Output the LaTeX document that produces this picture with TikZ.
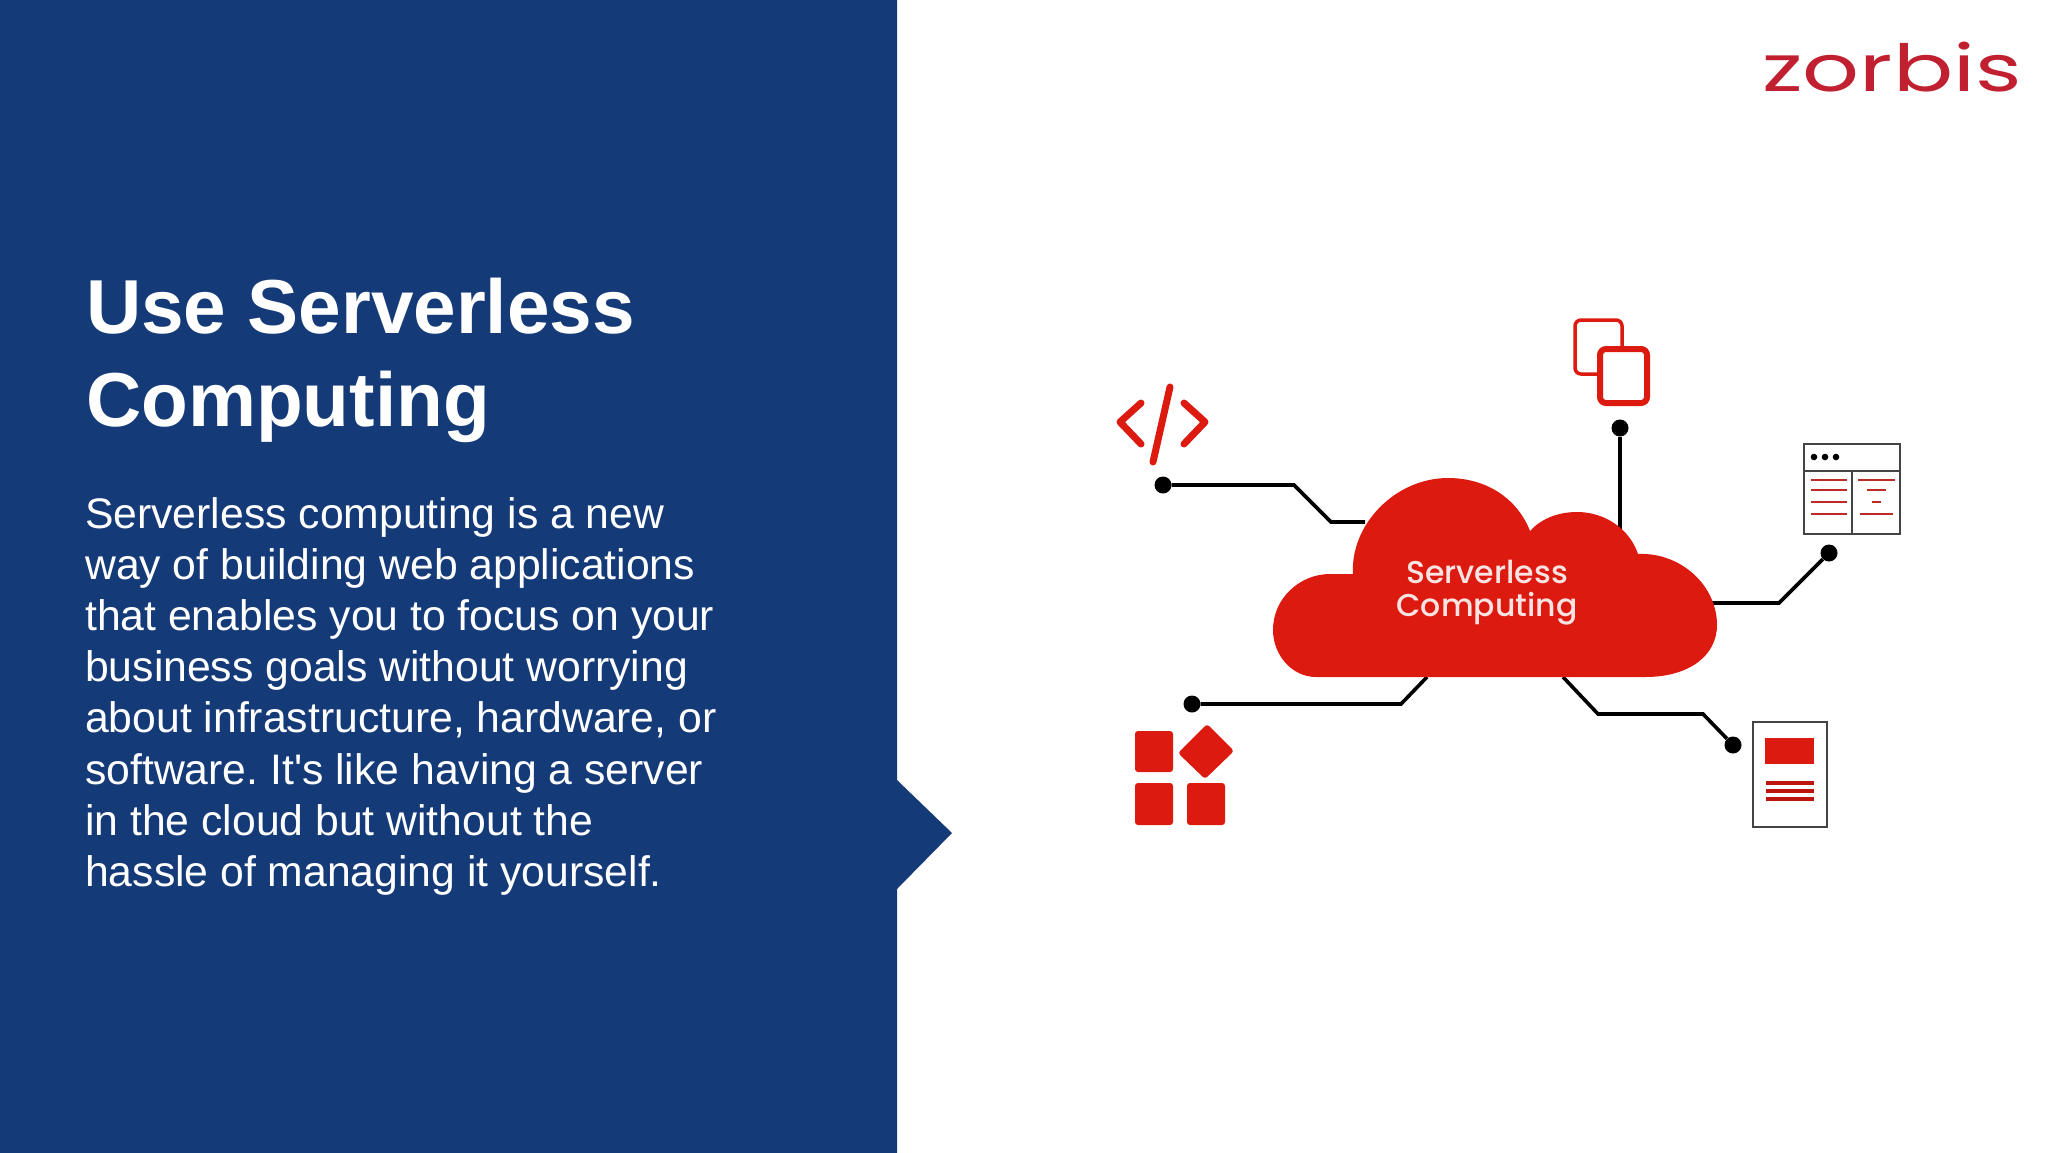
\documentclass[tikz,border=0pt]{standalone}
\usepackage{fontspec}
\setmainfont{Liberation Sans}
\newfontfamily\bodyfont{Liberation Sans}
\newfontfamily\cloudfont{Poppins Medium}
\newfontfamily\logofont{Poppins}
\frenchspacing
\definecolor{panelblue}{HTML}{153A78}
\definecolor{iconred}{HTML}{DD1A10}
\definecolor{linered}{HTML}{BE2A28}
\definecolor{logored}{HTML}{C0202F}
\definecolor{framegrey}{HTML}{444444}
\tikzset{
  dot/.style={circle,fill=black,inner sep=0pt,minimum size=17pt},
  wire/.style={line width=3.6pt,black},
  block/.style={fill=iconred,rounded corners=3pt},
  frame/.style={line width=2.2pt,draw=framegrey},
  redline/.style={line width=2.8pt,linered}
}
\begin{document}
\begin{tikzpicture}[x=1pt,y=-1pt]
\useasboundingbox (0,0) rectangle (2048,1152);
\fill[white] (0,0) rectangle (2048,1152);

% left panel
\fill[panelblue] (0,-2) -- (897,-2) -- (897,780) -- (952,833) -- (897,889) -- (897,1155) -- (0,1155) -- cycle;

% texts
\node (title) [anchor=north west,inner sep=0pt,align=left,white,font=\fontsize{76.5}{93}\selectfont\bfseries] at (86,278) {Use Serverless\\Computing};
\node (body) [anchor=north west,inner sep=0pt,align=left,white,font=\bodyfont\fontsize{42.7}{51.2}\selectfont] at (85,497)
  {Serverless computing is a new\\way of building web applications\\that enables you to focus on your\\business goals without worrying\\about infrastructure, hardware, or\\software. It's like having a server\\in the cloud but without the\\hassle of managing it yourself.};

% logo
\node (logo) [anchor=base,inner sep=0pt,logored,xscale=1.37,font=\logofont\fontsize{65}{65}\selectfont] at (1892,91) {zorbis};

% connector ends on the cloud
\coordinate (cloudnw) at (1365,522);
\coordinate (cloudn) at (1620,535);
\coordinate (cloude) at (1710,603);
\coordinate (cloudsw) at (1427,677);
\coordinate (cloudse) at (1563,677);

% dots
\node (dotcode) [dot] at (1163,485) {};
\node (dotcopy) [dot] at (1620,428) {};
\node (dotwin) [dot] at (1829,553) {};
\node (dotblock) [dot] at (1192,704) {};
\node (dotdoc) [dot] at (1733,745) {};

% connectors
\draw[wire] (dotcode) -- ++(131,0) -- ++(37,37) -- (cloudnw);
\draw[wire] (dotcopy) -- (cloudn);
\draw[wire] (dotwin) -- (1779,603) -- (cloude);
\draw[wire] (dotblock) -- (1401,704) -- (cloudsw);
\draw[wire] (cloudse) -- ++(35,37) -- ++(105,0) -- (dotdoc);

% cloud
\fill[iconred] (1316,677) .. controls (1292,677) and (1273,655) .. (1273,630)
  .. controls (1273,598) and (1300,574) .. (1330,574) -- (1353,574)
  .. controls (1350,525) and (1395,478) .. (1448,478)
  .. controls (1488,478) and (1518,500) .. (1530,531)
  .. controls (1540,520) and (1556,512) .. (1577,512)
  .. controls (1606,512) and (1630,530) .. (1638,554)
  .. controls (1680,552) and (1717,585) .. (1717,625)
  .. controls (1717,655) and (1690,677) .. (1645,677) -- cycle;
\node (cloudtext) [inner sep=0pt,align=center,text=white!88!iconred,font=\cloudfont\fontsize{31.5}{33}\selectfont] at (1487,593) {Serverless\\Computing};

% code icon
\draw[line width=7pt,iconred,line cap=round,line join=round] (1141,403) -- (1120,422) -- (1141,444);
\draw[line width=7pt,iconred,line cap=round,line join=round] (1184,403) -- (1205,422) -- (1184,444);
\draw[line width=7pt,iconred,line cap=round] (1170,387) -- (1153,462);

% copy icon
\draw[line width=3.5pt,iconred,rounded corners=6pt] (1575,320) rectangle (1622,374);
\draw[line width=6pt,iconred,fill=white,rounded corners=6pt] (1600,349) rectangle (1647,403);

% window icon
\draw[frame] (1804,444) rectangle (1900,534);
\draw[frame] (1804,471) -- (1900,471);
\draw[frame] (1852,471) -- (1852,534);
\foreach \x in {1814,1825,1836}
    \fill[black] (\x,457) circle (3.3);
\foreach \y in {480,490,502,514}
    \draw[redline] (1811,\y) -- (1847,\y);
\draw[redline] (1858,480) -- (1895,480);
\draw[redline] (1867,490) -- (1886,490);
\draw[redline] (1872,502) -- (1881,502);
\draw[redline] (1860,514) -- (1893,514);

% block icon
\fill[block] (1135,731) rectangle (1173,772);
\fill[block] (1135,783) rectangle (1173,825);
\fill[block] (1187,783) rectangle (1225,825);
\fill[block] (1207,724) -- (1234,751) -- (1205,779) -- (1178,753) -- cycle;

% page icon
\draw[frame] (1753,722) rectangle (1827,827);
\fill[iconred] (1765,738) rectangle (1814,764);
\foreach \y in {783,790.5,798.5}
    \draw[line width=4pt,iconred!85!black] (1766,\y) -- (1814,\y);

\end{tikzpicture}
\end{document}
